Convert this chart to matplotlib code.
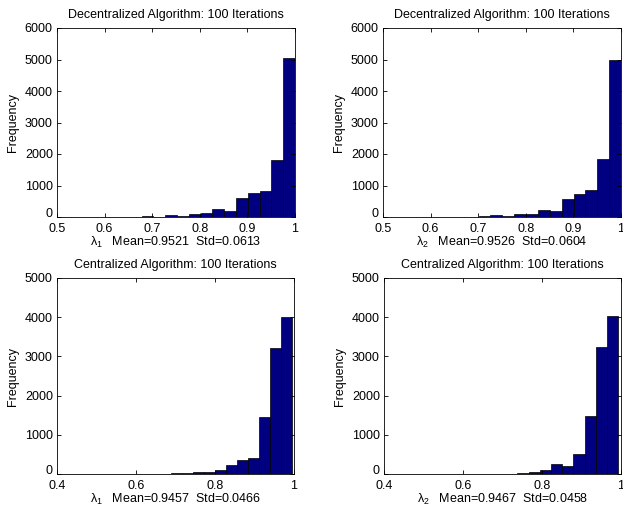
import numpy as np
import matplotlib
matplotlib.use("Agg")
import matplotlib.pyplot as plt

plt.rcParams["font.family"] = ["Liberation Sans", "DejaVu Sans"]
plt.rcParams["mathtext.fontset"] = "custom"
plt.rcParams["mathtext.rm"] = "Liberation Sans"
plt.rcParams["mathtext.it"] = "Liberation Sans"

# histogram counts (10000 samples per panel)
dec1_counts = [10, 20, 15, 60, 40, 100, 130, 240, 200, 610, 760, 820, 1800, 5050]
dec2_counts = [10, 15, 20, 55, 30, 95, 95, 215, 185, 580, 730, 870, 1830, 5000]
cen1_counts = [15, 30, 45, 55, 110, 220, 360, 420, 1460, 3220, 4000]
cen2_counts = [10, 12, 25, 45, 100, 250, 210, 500, 1475, 3250, 4040]

# bin ranges (first left edge, last right edge)
dec1_range = (0.653, 1.0)
dec2_range = (0.651, 1.0)
cen1_range = (0.688, 0.996)
cen2_range = (0.681, 0.993)

dec_title = "Decentralized Algorithm: 100 Iterations"
cen_title = "Centralized Algorithm: 100 Iterations"
xlabels = [r"$\lambda_1$   Mean=0.9521  Std=0.0613",
           r"$\lambda_2$   Mean=0.9526  Std=0.0604",
           r"$\lambda_1$   Mean=0.9457  Std=0.0466",
           r"$\lambda_2$   Mean=0.9467  Std=0.0458"]

W, H = 623, 512
fig = plt.figure(figsize=(W / 100, H / 100), dpi=100)

def px_axes(x0, x1, y0, y1):
    return fig.add_axes([x0 / W, 1 - y1 / H, (x1 - x0) / W, (y1 - y0) / H])

panels = [
    (px_axes(57, 295, 28, 217), dec1_counts, dec1_range, dec_title, xlabels[0], "top"),
    (px_axes(383, 621, 28, 217), dec2_counts, dec2_range, dec_title, xlabels[1], "top"),
    (px_axes(57, 294, 278, 474), cen1_counts, cen1_range, cen_title, xlabels[2], "bot"),
    (px_axes(384, 621, 278, 474), cen2_counts, cen2_range, cen_title, xlabels[3], "bot"),
]

fs = 9
for ax, counts, rng, title, xlab, row in panels:
    edges = np.linspace(rng[0], rng[1], len(counts) + 1)
    ax.bar(edges[:-1], counts, width=np.diff(edges), align="edge",
           color="#000080", edgecolor="black", linewidth=0.5)
    if row == "top":
        ax.set_xlim(0.5, 1.0)
        ax.set_xticks([0.5, 0.6, 0.7, 0.8, 0.9, 1.0])
        ax.set_xticklabels(["0.5", "0.6", "0.7", "0.8", "0.9", "1"])
        ax.set_ylim(0, 6000)
        ax.set_yticks(range(0, 6001, 1000))
    else:
        ax.set_xlim(0.4, 1.0)
        ax.set_xticks([0.4, 0.6, 0.8, 1.0])
        ax.set_xticklabels(["0.4", "0.6", "0.8", "1"])
        ax.set_ylim(0, 5000)
        ax.set_yticks(range(0, 5001, 1000))
    ax.tick_params(direction="in", top=True, right=True, labelsize=fs,
                   length=3, width=0.6)
    ax.tick_params(axis="x", pad=4)
    ax.tick_params(axis="y", pad=3)
    # lift the "0" label a little so it clears the first x tick label
    ax.get_yticklabels()[0].set_verticalalignment("baseline")
    for s in ax.spines.values():
        s.set_linewidth(0.6)
    ax.set_title(title, fontsize=fs, pad=7)
    ax.set_xlabel(xlab, fontsize=fs, labelpad=0)
    ax.set_ylabel("Frequency", fontsize=fs, labelpad=4)

fig.savefig("out.png", dpi=100)
